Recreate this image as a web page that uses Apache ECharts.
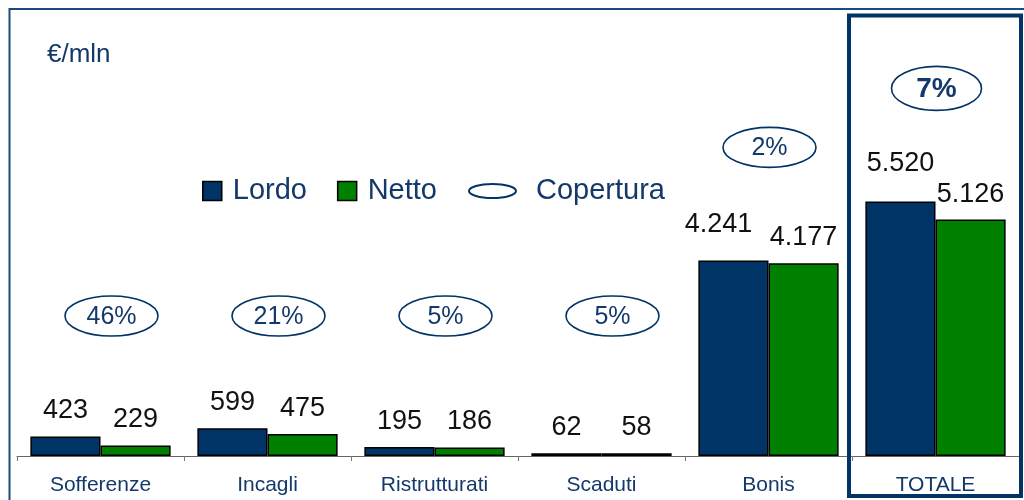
<!DOCTYPE html>
<html>
<head>
<meta charset="utf-8">
<style>
  html, body { margin: 0; padding: 0; background: #fff; }
  #chart { width: 1024px; height: 500px; }
</style>
<script src="https://cdn.jsdelivr.net/npm/echarts@6/dist/echarts.min.js"></script>
</head>
<body>
<div id="chart"></div>
<script>
// Crediti verso clientela: lordo, netto e copertura per categoria (€/mln)
const categories = ['Sofferenze', 'Incagli', 'Ristrutturati', 'Scaduti', 'Bonis', 'TOTALE'];
const lordo = [423, 599, 195, 62, 4241, 5520];
const netto = [229, 475, 186, 58, 4177, 5126];
const copertura = [46, 21, 5, 5, 2, 7];

const NAVY = '#003366';
const GREEN = '#008000';
const TEXT_BLUE = '#13396b';
const FONT = '"Liberation Sans", Arial, sans-serif';

// Italian thousands separator
const fmt = v => v >= 1000 ? String(v).replace(/\B(?=(\d{3})+(?!\d))/g, '.') : String(v);

// small per-label nudges for the tallest bars
const lordoLabelOffset = [[0, 0], [0, 0], [0, 0], [0, 0], [-15, -10], [0, -12]];

const chart = echarts.init(document.getElementById('chart'), null, { renderer: 'canvas' });

const barLabel = {
  show: true,
  position: 'top',
  distance: 12,
  color: '#111',
  fontFamily: FONT,
  fontSize: 27,
  formatter: p => fmt(p.value)
};

const legendText = { color: TEXT_BLUE, fontFamily: FONT, fontSize: 29, lineHeight: 30 };

chart.setOption({
  animation: false,
  backgroundColor: '#fff',
  grid: { left: 17, right: 5, top: 87, bottom: 44 },
  xAxis: {
    type: 'category',
    data: categories,
    axisLine: { lineStyle: { color: '#666', width: 1 } },
    axisTick: { show: true, length: 5, lineStyle: { color: '#777' } },
    axisLabel: { color: TEXT_BLUE, fontFamily: FONT, fontSize: 21, margin: 19 }
  },
  yAxis: { type: 'value', min: 0, max: 8000, show: false },
  legend: [
    {
      left: 202, top: 176, padding: 0,
      itemWidth: 19, itemHeight: 19, itemGap: 30,
      icon: 'rect',
      data: ['Lordo', 'Netto'],
      itemStyle: { borderColor: '#000', borderWidth: 1.5 },
      textStyle: Object.assign({ padding: [0, 0, 0, 6] }, legendText)
    },
    {
      left: 468, top: 176, padding: 0,
      itemWidth: 47, itemHeight: 14,
      icon: 'path://M0,7A23.5,7 0 1,0 47,7A23.5,7 0 1,0 0,7Z',
      data: ['Copertura'],
      itemStyle: { color: '#fff', borderColor: NAVY, borderWidth: 2 },
      textStyle: Object.assign({ padding: [0, 0, 0, 15] }, legendText)
    }
  ],
  graphic: [
    // outer frame (top and left edges)
    { type: 'polyline', silent: true, z: 100,
      shape: { points: [[9.5, 510], [9.5, 9], [1030, 9]] },
      style: { stroke: '#1d4a7c', lineWidth: 2, fill: null } },
    // highlight around the total
    { type: 'rect', silent: true, z: 100,
      shape: { x: 849, y: 15.5, width: 172, height: 480.5 },
      style: { stroke: NAVY, lineWidth: 4, fill: null } },
    // unit caption
    { type: 'text', left: 47, top: 42, z: 100,
      style: { text: '€/mln', fill: TEXT_BLUE, font: '26px ' + FONT } }
  ],
  series: [
    {
      name: 'Lordo', type: 'bar',
      barGap: 0, barCategoryGap: '16%',
      data: lordo.map((v, i) => ({ value: v, label: { offset: lordoLabelOffset[i] } })),
      itemStyle: { color: NAVY, borderColor: '#000', borderWidth: 1.5 },
      label: barLabel
    },
    {
      name: 'Netto', type: 'bar',
      data: netto,
      itemStyle: { color: GREEN, borderColor: '#000', borderWidth: 1.5 },
      label: barLabel
    },
    {
      name: 'Copertura', type: 'custom',
      itemStyle: { color: NAVY },
      data: categories.map((c, i) => [i, copertura[i], lordo[i]]),
      encode: { x: 0, y: 2 },
      renderItem: function (params, api) {
        const idx = api.value(0);
        const top = api.coord([idx, api.value(2)]);
        const big = idx === categories.length - 1;
        // ovals sit on a common row, lifted above the taller bars
        const lifted = top[1] - 113 < 290;
        const cy = lifted ? top[1] - 113 : 316;
        const cx = top[0] + (lifted ? 1 : 11);
        return {
          type: 'group',
          children: [
            { type: 'ellipse',
              shape: { cx: cx, cy: cy, rx: big ? 45 : 46.5, ry: big ? 22 : 20 },
              style: { fill: '#fff', stroke: NAVY, lineWidth: 1.6 } },
            { type: 'text',
              style: {
                x: cx, y: cy + 1,
                text: api.value(1) + '%',
                fill: TEXT_BLUE,
                font: (big ? 'bold 28px ' : '25px ') + FONT,
                align: 'center', verticalAlign: 'middle'
              } }
          ]
        };
      }
    }
  ]
});
</script>
</body>
</html>
